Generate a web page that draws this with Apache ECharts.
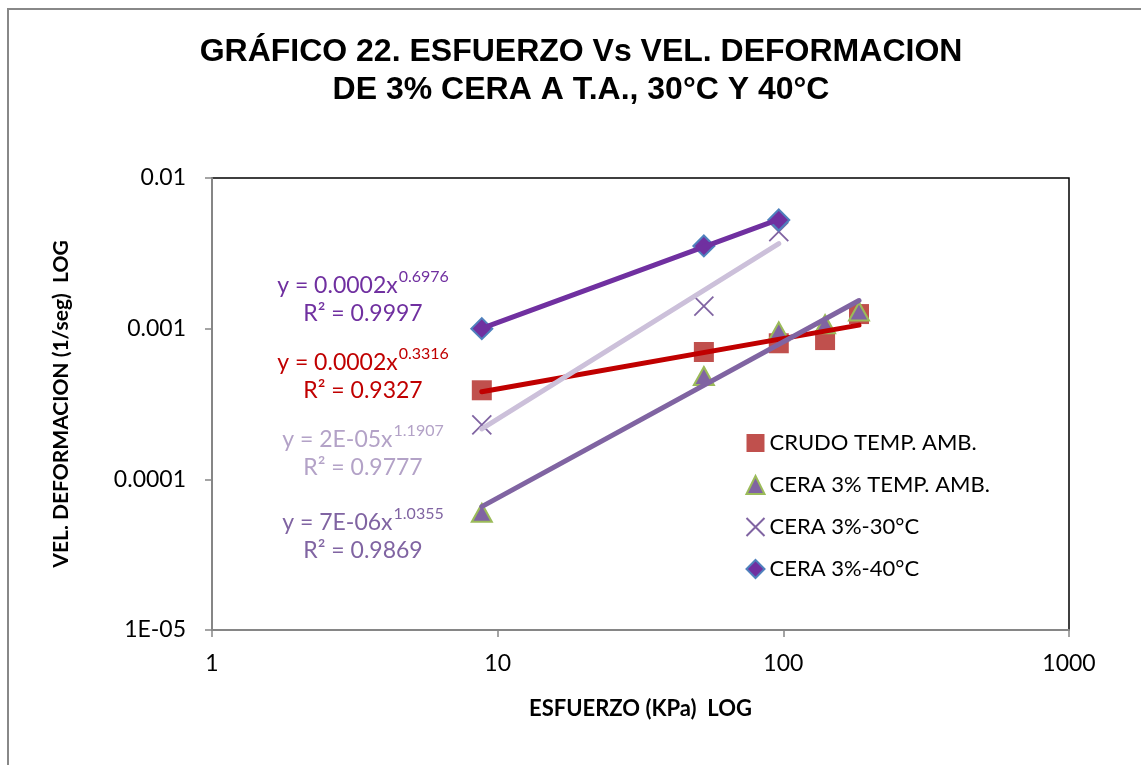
<!DOCTYPE html>
<html>
<head>
<meta charset="utf-8">
<script src="https://cdn.jsdelivr.net/npm/echarts@6/dist/echarts.min.js"></script>
<style>
  html, body { margin: 0; padding: 0; background: #fff; }
  #chart { width: 1141px; height: 765px; }
</style>
</head>
<body>
<div id="chart"></div>
<script>
// datos (esfuerzo KPa, vel. deformacion 1/seg)
const crudoX = [8.8, 52.7, 96.4, 140, 184];
const crudoY = [0.00039, 0.00070, 0.00080, 0.00084, 0.00125];
const ceraTaX = [8.8, 52.7, 96.4, 140, 184];
const ceraTaY = [0.00006, 0.000485, 0.00096, 0.00107, 0.0013];
const cera30X = [8.8, 52.7, 96.4];
const cera30Y = [0.00023, 0.00141, 0.0044];
const cera40X = [8.8, 52.7, 96.4];
const cera40Y = [0.0010, 0.00354, 0.00526];

const names = ['CRUDO TEMP. AMB.', 'CERA 3% TEMP. AMB.', 'CERA 3%-30°C', 'CERA 3%-40°C'];
const yTickLabels = { '-2': '0.01', '-3': '0.001', '-4': '0.0001', '-5': '1E-05' };
const xTickLabels = { '0': '1', '1': '10', '2': '100', '3': '1000' };

const font = 'Lato, "Open Sans", sans-serif';

const pairs = (xs, ys) => xs.map((x, i) => [x, ys[i]]);

// ajuste potencial (minimos cuadrados en log-log), como la linea de tendencia de Excel
function powerFit(xs, ys) {
  const lx = xs.map(Math.log10), ly = ys.map(Math.log10);
  const n = xs.length;
  const mx = lx.reduce((a, b) => a + b) / n, my = ly.reduce((a, b) => a + b) / n;
  let sxy = 0, sxx = 0;
  for (let i = 0; i < n; i++) { sxy += (lx[i] - mx) * (ly[i] - my); sxx += (lx[i] - mx) ** 2; }
  const b = sxy / sxx, a = my - b * mx;
  const x0 = Math.min(...xs), x1 = Math.max(...xs);
  return [[x0, Math.pow(10, a + b * Math.log10(x0))], [x1, Math.pow(10, a + b * Math.log10(x1))]];
}

const trend = (data, color) => ({
  type: 'line', data, showSymbol: false, symbol: 'none', silent: true, z: 5,
  lineStyle: { color, width: 5, cap: 'round' }
});

function eqLabel(y, eq, exp, r2, color) {
  return [
    {
      type: 'text', x: 363, y, style: {
        text: '{a|' + eq + '}{s|' + exp + '}', align: 'center', verticalAlign: 'middle',
        fill: color,
        rich: {
          a: { fontFamily: font, fontSize: 23, color, lineHeight: 28, verticalAlign: 'bottom' },
          s: { fontFamily: font, fontSize: 16, color, lineHeight: 28, verticalAlign: 'top', padding: [0, 0, 0, 1] }
        }
      }
    },
    {
      type: 'text', x: 363, y: y + 31, style: {
        text: 'R² = ' + r2, align: 'center', verticalAlign: 'middle',
        fill: color, font: '23px ' + font
      }
    }
  ];
}

const chart = echarts.init(document.getElementById('chart'));

const option = {
  backgroundColor: '#fff',
  animation: false,
  title: {
    text: 'GRÁFICO 22. ESFUERZO Vs VEL. DEFORMACION\nDE 3% CERA A T.A., 30°C Y 40°C',
    left: 576, top: 28, textAlign: 'center',
    textStyle: { fontFamily: '"Liberation Sans", Arial, sans-serif', fontWeight: 'bold', fontSize: 32, lineHeight: 38, color: '#000' }
  },
  grid: { left: 212, top: 178, width: 857, height: 452, show: true, borderColor: '#000', borderWidth: 1.5, backgroundColor: '#fff' },
  legend: {
    orient: 'vertical', left: 739, top: 426,
    data: names, itemWidth: 18, itemHeight: 18, itemGap: 18,
    textStyle: { fontFamily: font, fontSize: 22, lineHeight: 24, color: '#000' }
  },
  xAxis: {
    type: 'log', logBase: 10, min: 1, max: 1000,
    name: 'ESFUERZO (KPa)  LOG', nameLocation: 'middle', nameGap: 68,
    nameTextStyle: { fontFamily: font, fontWeight: 'bold', fontSize: 22, color: '#000' },
    axisLine: { lineStyle: { color: '#868686', width: 2 } },
    axisTick: { show: true, length: 7, lineStyle: { color: '#868686', width: 1.5 } },
    minorTick: { show: false },
    splitLine: { show: false },
    axisLabel: {
      fontFamily: font, fontSize: 23, color: '#000', margin: 22,
      formatter: v => xTickLabels[String(Math.round(Math.log10(v)))] || ''
    }
  },
  yAxis: {
    type: 'log', logBase: 10, min: 0.00001, max: 0.01,
    name: 'VEL. DEFORMACION (1/seg)  LOG', nameLocation: 'middle', nameGap: 140, nameRotate: 90,
    nameTextStyle: { fontFamily: font, fontWeight: 'bold', fontSize: 21, color: '#000' },
    axisLine: { lineStyle: { color: '#868686', width: 2 } },
    axisTick: { show: true, length: 7, lineStyle: { color: '#868686', width: 1.5 } },
    splitLine: { show: false },
    axisLabel: {
      fontFamily: font, fontSize: 23, color: '#000', margin: 26,
      formatter: v => yTickLabels[String(Math.round(Math.log10(v)))] || ''
    }
  },
  series: [
    {
      name: names[0], type: 'scatter', data: pairs(crudoX, crudoY), symbol: 'rect', symbolSize: 20, z: 3,
      itemStyle: { color: '#C0504D', opacity: 1 }
    },
    {
      name: names[1], type: 'scatter', data: pairs(ceraTaX, ceraTaY), symbol: 'triangle', symbolSize: [20, 18], z: 3,
      itemStyle: { color: '#8064A2', borderColor: '#9BBB59', borderWidth: 2, opacity: 1 }
    },
    {
      name: names[2], type: 'scatter', data: pairs(cera30X, cera30Y), symbol: 'path://M0,0L10,10M10,0L0,10', symbolSize: 19, z: 3,
      itemStyle: { color: 'none', borderColor: '#8064A2', borderWidth: 1.8, opacity: 1 }
    },
    {
      name: names[3], type: 'scatter', data: pairs(cera40X, cera40Y), symbol: 'diamond', symbolSize: [21, 21], z: 3,
      itemStyle: { color: '#7030A0', borderColor: '#4F81BD', borderWidth: 2, opacity: 1 }
    },
    trend(powerFit(crudoX, crudoY), '#C00000'),
    trend(powerFit(ceraTaX, ceraTaY), '#8064A2'),
    trend(powerFit(cera30X, cera30Y), '#CCC0DA'),
    trend(powerFit(cera40X, cera40Y), '#7030A0')
  ],
  graphic: [
    { type: 'rect', shape: { x: 8, y: 9, width: 1200, height: 800 }, style: { fill: 'none', stroke: '#888', lineWidth: 2 }, silent: true, z: -10 },
    ...eqLabel(283, 'y = 0.0002x', '0.6976', '0.9997', '#7030A0'),
    ...eqLabel(360, 'y = 0.0002x', '0.3316', '0.9327', '#C00000'),
    ...eqLabel(437, 'y = 2E-05x', '1.1907', '0.9777', '#B3A2C7'),
    ...eqLabel(520, 'y = 7E-06x', '1.0355', '0.9869', '#8064A2')
  ]
};

chart.setOption(option);
</script>
</body>
</html>
